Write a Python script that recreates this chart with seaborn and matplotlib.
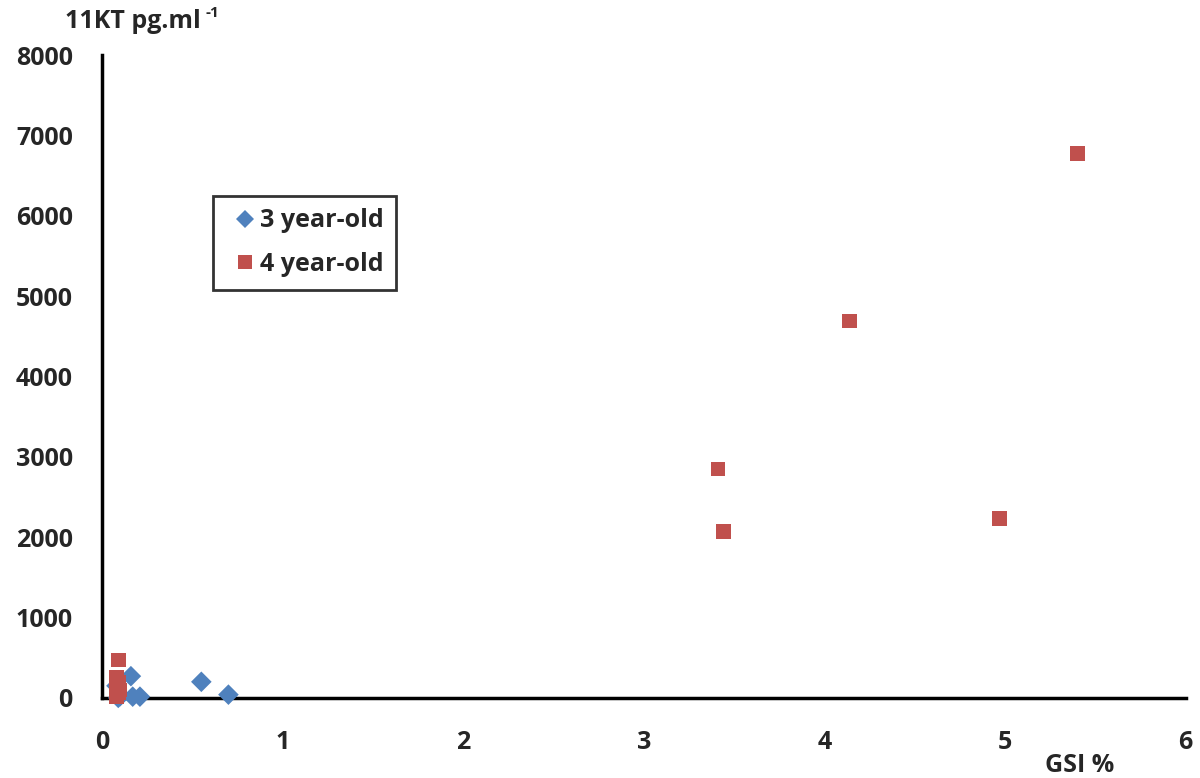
import matplotlib
matplotlib.use("Agg")
import matplotlib.pyplot as plt
import seaborn as sns
import pandas as pd

# 3 year-old fish
gsi_3 = [0.09, 0.10, 0.16, 0.17, 0.21, 0.55, 0.70, 0.08]
kt_3 = [0, 20, 270, 15, 15, 200, 40, 150]

# 4 year-old fish
gsi_4 = [0.09, 0.08, 0.09, 0.08, 0.10, 0.09, 0.08, 3.41, 3.44, 4.14, 4.97, 5.40]
kt_4 = [470, 260, 200, 150, 100, 60, 20, 2850, 2070, 4690, 2230, 6780]

df = pd.DataFrame({
    "gsi": gsi_3 + gsi_4,
    "kt": kt_3 + kt_4,
    "group": ["3 year-old"] * len(gsi_3) + ["4 year-old"] * len(gsi_4),
})

sns.set_style("white")
plt.rcParams["font.family"] = ["Open Sans", "DejaVu Sans"]

fig = plt.figure(figsize=(12, 7.78), dpi=100)
ax = fig.add_axes([0.085, 0.103, 0.903, 0.826])

sns.scatterplot(data=df, x="gsi", y="kt", hue="group", style="group",
                palette={"3 year-old": "#4F81BD", "4 year-old": "#C0504D"},
                markers={"3 year-old": "D", "4 year-old": "s"},
                s=110, linewidth=0, ax=ax, clip_on=False, zorder=5)

ax.set_xlim(0, 6)
ax.set_ylim(0, 8000)
ax.set_xticks(range(0, 7))
ax.set_yticks(range(0, 8001, 1000))
ax.set_xlabel("")
ax.set_ylabel("")
for s in ["top", "right"]:
    ax.spines[s].set_visible(False)
for s in ["left", "bottom"]:
    ax.spines[s].set_color("black")
    ax.spines[s].set_linewidth(2.5)
ax.tick_params(axis="both", which="both", direction="out", length=7, width=2.5,
               color="black", labelsize=18)
ax.tick_params(axis="x", pad=16)
ax.tick_params(axis="y", pad=14)
for lab in ax.get_xticklabels() + ax.get_yticklabels():
    lab.set_fontweight("bold")

fig.text(0.054, 0.972, "11KT pg.ml", fontsize=18, fontweight="bold",
         ha="left", va="center")
fig.text(0.1715, 0.983, "-1", fontsize=11, fontweight="bold",
         ha="left", va="center")
fig.text(0.9, 0.016, "GSI %", fontsize=18, fontweight="bold", ha="center", va="center")

leg = ax.legend(loc="upper left", bbox_to_anchor=(0.102, 0.781), frameon=True,
                fancybox=False, edgecolor="black",
                prop={"weight": "bold", "size": 18}, handletextpad=-0.2,
                borderpad=0.5, labelspacing=0.75, markerscale=0.9,
                borderaxespad=0, handlelength=1.6)
leg.get_frame().set_linewidth(2)

fig.savefig("out.png", dpi=100)
plt.close()
